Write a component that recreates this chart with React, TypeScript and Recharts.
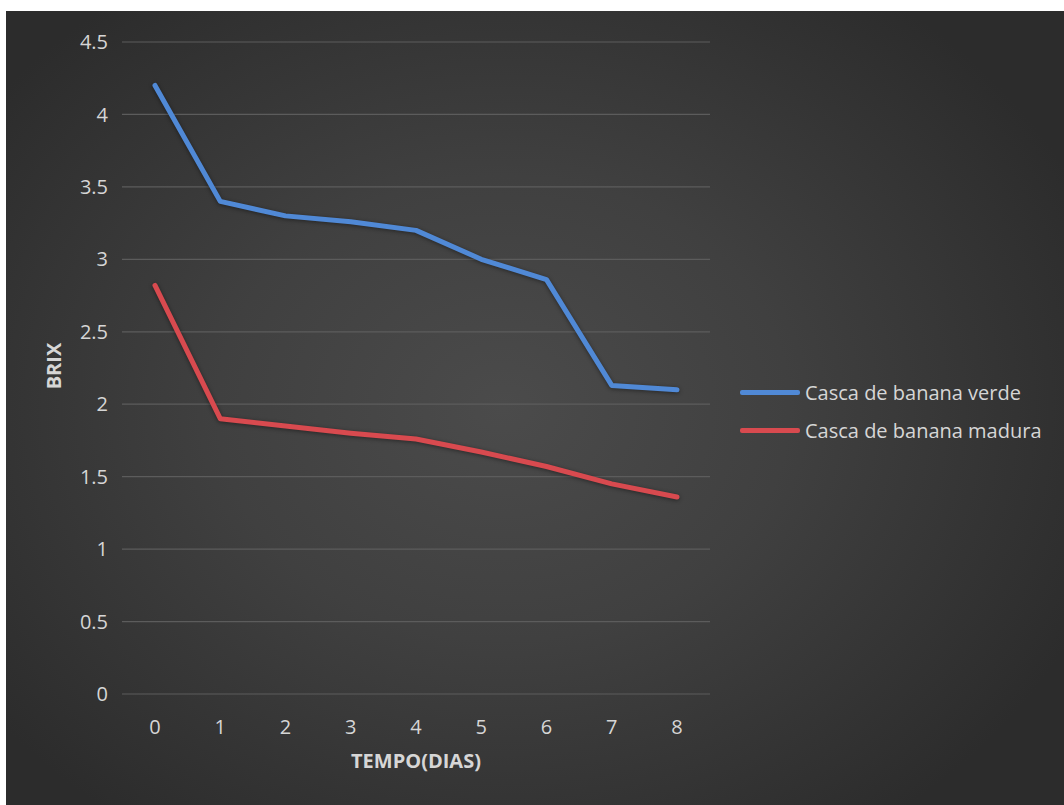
import { LineChart, Line, XAxis, YAxis, CartesianGrid, Legend, Label } from 'recharts';

// Brix readings of banana peel over the days
const dias = ['0', '1', '2', '3', '4', '5', '6', '7', '8'];
const cascaVerde = [4.2, 3.4, 3.3, 3.26, 3.2, 3.0, 2.86, 2.13, 2.1];
const cascaMadura = [2.82, 1.9, 1.85, 1.8, 1.76, 1.67, 1.57, 1.45, 1.36];
const brixTicks = [0, 0.5, 1, 1.5, 2, 2.5, 3, 3.5, 4, 4.5];

const series = [
  { key: 'verde', name: 'Casca de banana verde', color: '#5089d6' },
  { key: 'madura', name: 'Casca de banana madura', color: '#d84a4f' },
];

const data = dias.map((d, i) => ({ dia: d, verde: cascaVerde[i], madura: cascaMadura[i] }));

const FONT = '"Open Sans", sans-serif';
const TEXT = '#d6d6d6';

const LegendBox = () => (
  <div style={{ fontFamily: FONT, fontSize: 20, color: TEXT }}>
    {series.map((s) => (
      <div key={s.key} style={{ display: 'flex', alignItems: 'center', height: 38 }}>
        <span style={{ width: 60, height: 5, background: s.color, borderRadius: 2, marginRight: 5 }} />
        <span>{s.name}</span>
      </div>
    ))}
  </div>
);

const BrixLabel = ({ viewBox }: any) => {
  const x = viewBox.x + 47.5;
  const y = viewBox.y + viewBox.height / 2 - 2;
  return (
    <text
      x={x}
      y={y}
      transform={`rotate(-90 ${x} ${y})`}
      textAnchor="middle"
      dominantBaseline="central"
      fill={TEXT}
      fontFamily={FONT}
      fontSize={20}
      fontWeight={700}
    >
      BRIX
    </text>
  );
};

const App = () => {
  return (
    <div
      style={{
        position: 'absolute',
        left: 6,
        top: 11,
        width: 1058,
        height: 794,
        background: 'radial-gradient(ellipse 60% 65% at 47% 50%, #4b4b4b 0%, #404040 45%, #2c2c2c 100%)',
      }}
    >
      <LineChart width={1058} height={794} data={data} margin={{ top: 31, right: 354, left: 0, bottom: 0 }}>
        <CartesianGrid vertical={false} stroke="#5c5c5c" strokeWidth={1.2} />
        <XAxis
          dataKey="dia"
          height={111}
          padding={{ left: 33, right: 33 }}
          axisLine={false}
          tickLine={false}
          tickSize={6}
          tickMargin={20}
          tick={{ fill: TEXT, fontSize: 20, fontFamily: FONT }}
        >
          <Label
            value="TEMPO(DIAS)"
            position="insideBottom"
            offset={37}
            fill={TEXT}
            fontSize={20}
            fontWeight={700}
            fontFamily={FONT}
          />
        </XAxis>
        <YAxis
          width={116}
          domain={[0, 4.5]}
          ticks={brixTicks}
          axisLine={false}
          tickLine={false}
          tickSize={6}
          tickMargin={8}
          tick={{ fill: TEXT, fontSize: 20, fontFamily: FONT }}
        >
          <Label content={<BrixLabel />} />
        </YAxis>
        <Legend
          content={<LegendBox />}
          layout="vertical"
          align="center"
          verticalAlign="middle"
          wrapperStyle={{ left: 734, top: 362, width: 320 }}
        />
        {series.map((s) => (
          <Line
            key={s.key}
            dataKey={s.key}
            name={s.name}
            stroke={s.color}
            strokeWidth={5}
            strokeLinecap="round"
            strokeLinejoin="round"
            dot={false}
            activeDot={false}
            isAnimationActive={false}
            style={{ filter: 'drop-shadow(0 1px 2px rgba(0,0,0,0.45))' }}
          />
        ))}
      </LineChart>
    </div>
  );
};

export default App;
